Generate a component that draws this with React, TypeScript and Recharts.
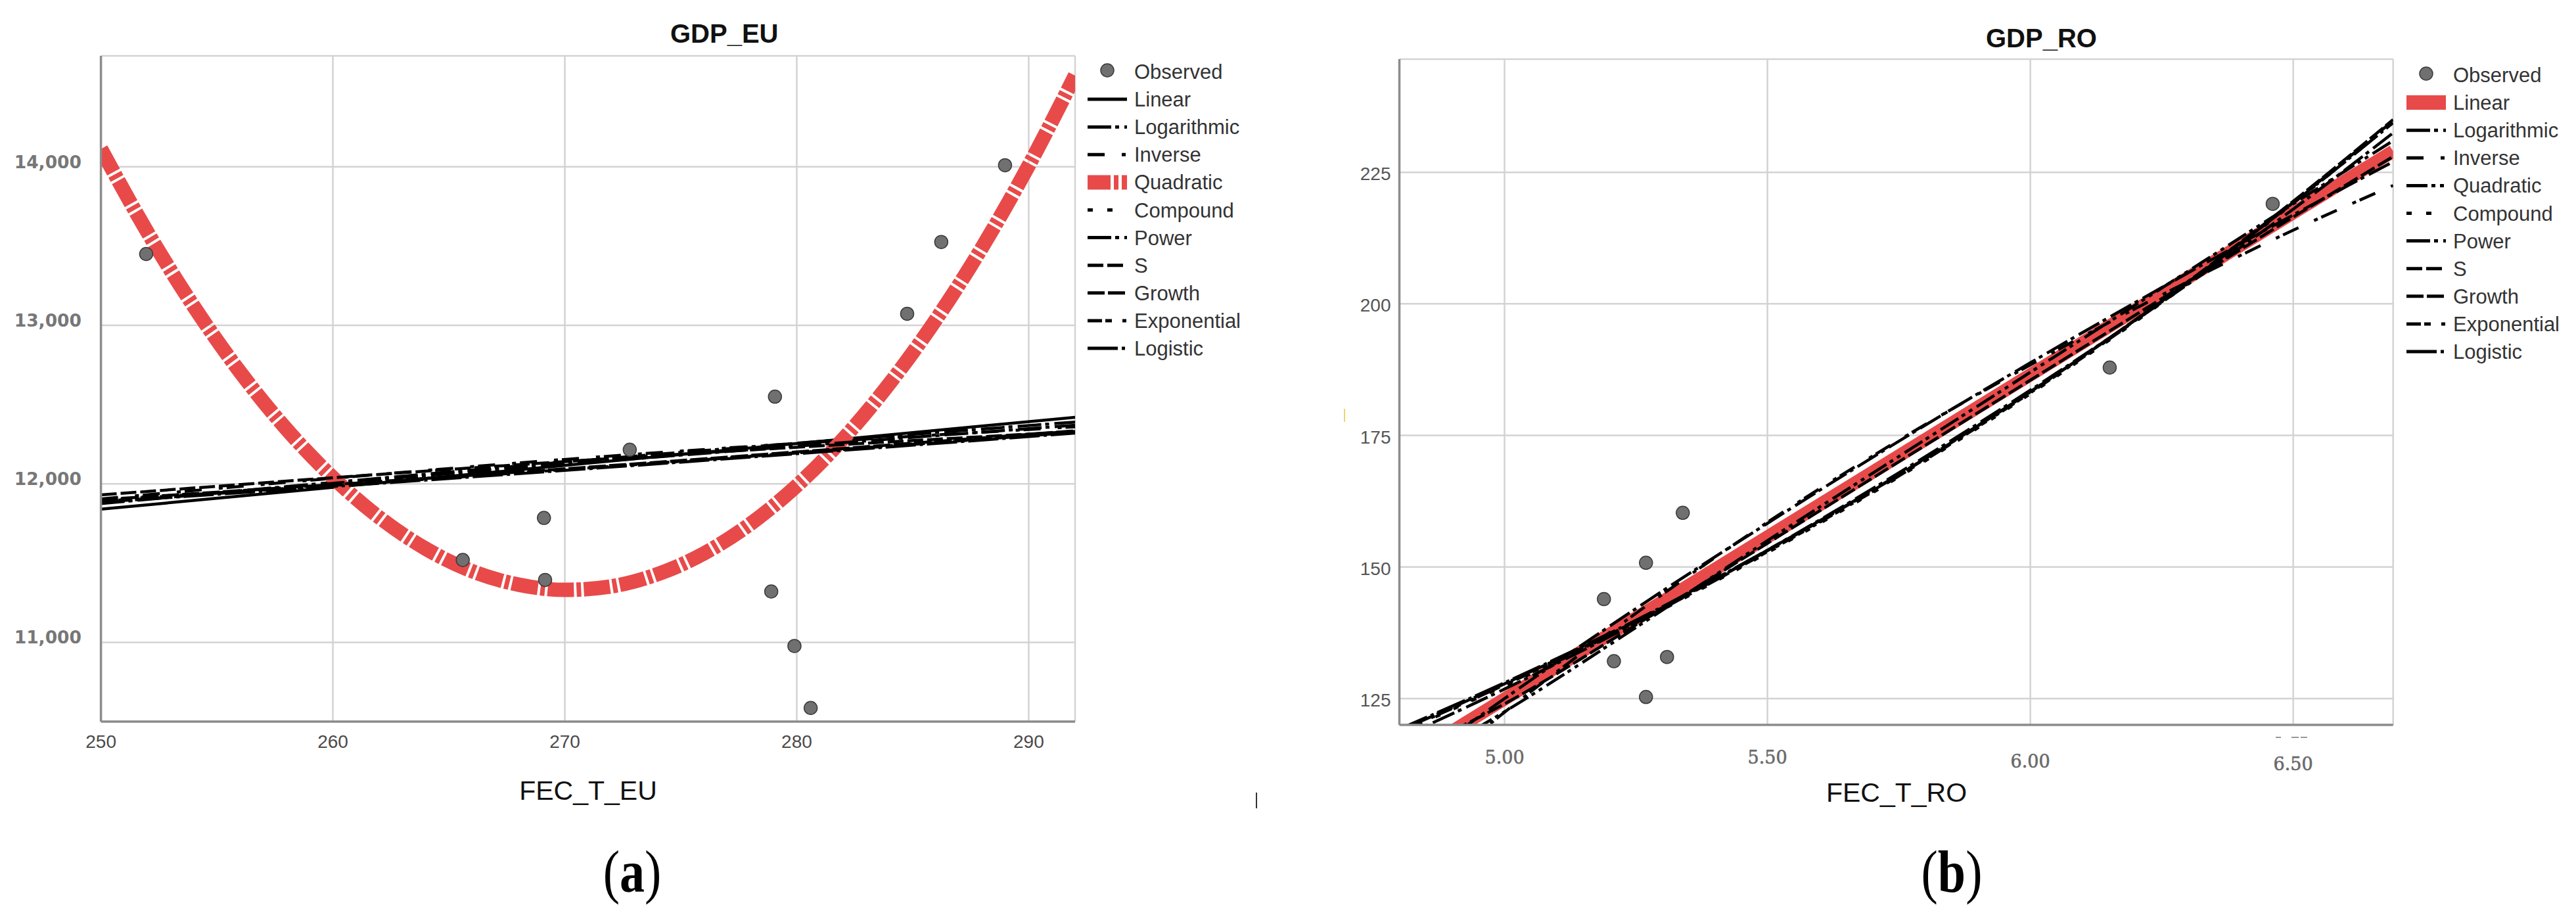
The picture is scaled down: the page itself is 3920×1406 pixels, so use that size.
import { ComposedChart, Scatter, Line, XAxis, YAxis, CartesianGrid, Legend } from "recharts";

// ---- (a) GDP_EU vs FEC_T_EU ----
const EU_OBS_X = [251.95, 265.6, 269.1, 269.15, 272.8, 278.9, 279.06, 279.9, 280.6, 284.76, 286.23, 288.98];
const EU_OBS_Y = [13450, 11520, 11785, 11394, 12215, 11321, 12550, 10977, 10586, 13073, 13526, 14010];

const EU_FIT_X = [250, 271, 292];
const EU_LINEAR = [11840, 12130, 12420];
const EU_LOG = [11875, 12150, 12390];
const EU_INVERSE = [11905, 12165, 12360];
const EU_COMPOUND = [11895, 12100, 12330];
const EU_POWER = [11880, 12135, 12370];
const EU_S = [11930, 12150, 12330];
const EU_GROWTH = [11900, 12105, 12335];
const EU_EXPONENTIAL = [11890, 12100, 12325];
const EU_LOGISTIC = [11885, 12095, 12320];

const EU_QUAD_X = [250, 252, 254, 256, 258, 260, 262, 264, 266, 268, 270, 272, 274, 276, 278, 280, 282, 284, 286, 288, 290, 292];
const EU_QUAD_Y = [14113, 13589, 13120, 12705, 12345, 12040, 11788, 11591, 11449, 11364, 11331, 11353, 11430, 11561, 11747, 11988, 12283, 12633, 13036, 13494, 14008, 14576];

const EU_X_TICKS = [250, 260, 270, 280, 290];
const EU_Y_TICKS = [11000, 12000, 13000, 14000];

// ---- (b) GDP_RO vs FEC_T_RO ----
const RO_OBS_X = [5.339, 5.269, 5.189, 5.208, 5.309, 5.269, 6.151, 6.461];
const RO_OBS_Y = [160.3, 150.8, 143.9, 132.1, 132.9, 125.3, 187.9, 219.0];

const RO_LINEAR_X = [4.8, 6.69];
const RO_LINEAR = [112.6, 229.0];
const RO_FIT_X = [4.8, 5.0, 5.25, 5.5, 5.75, 6.0, 6.25, 6.5, 6.69];
const RO_LOG = [110.6, 125.0, 142.1, 158.3, 173.9, 188.8, 203.1, 216.9, 227.0];
const RO_INVERSE = [105.9, 122.4, 141.2, 158.5, 174.1, 188.4, 201.7, 214.0, 222.5];
const RO_QUAD = [111.0, 122.5, 138.5, 155.0, 171.0, 187.0, 203.0, 219.0, 231.0];
const RO_COMPOUND = [118.5, 127.4, 139.3, 152.7, 167.1, 182.9, 200.2, 219.1, 234.5];
const RO_POWER = [117.5, 126.8, 139.4, 153.2, 167.9, 183.6, 200.3, 218.0, 232.5];
const RO_S = [114.0, 124.0, 139.0, 154.5, 170.0, 185.5, 201.0, 216.5, 228.0];
const RO_GROWTH = [118.9, 127.8, 139.7, 153.1, 167.5, 183.3, 200.6, 219.5, 235.0];
const RO_EXPONENTIAL = [118.7, 127.6, 139.5, 152.9, 167.3, 183.1, 200.4, 219.3, 234.8];
const RO_LOGISTIC = [119.2, 128.0, 139.9, 153.2, 167.6, 183.3, 200.5, 219.2, 234.4];

const RO_X_TICKS = [5.0, 5.5, 6.0, 6.5];
const RO_Y_TICKS = [125, 150, 175, 200, 225];

const RED = "#e84a4a";
const BLACK = "#000000";
const SANS = "'Liberation Sans', Arial, sans-serif";

type Fit = {
  name: string;
  xs: number[];
  ys: number[];
  color: string;
  width: number;
  dash?: string;
  legendDash?: string;
  curve?: boolean;
};

const DASH = {
  log: "36 6 6 8",
  inverse: "26 26 6 6",
  quad: "32 6 6 7 6 8",
  compound: "8 22",
  power: "36 6 6 8",
  s: "24 6",
  growth: "26 5",
  exponential: "22 5 10 16 6 6",
  logistic: "46 6 5 6",
};

const EU_FITS: Fit[] = [
  { name: "Linear", xs: EU_FIT_X, ys: EU_LINEAR, color: BLACK, width: 4.5 },
  { name: "Logarithmic", xs: EU_FIT_X, ys: EU_LOG, color: BLACK, width: 4.5, dash: DASH.log, curve: true },
  { name: "Inverse", xs: EU_FIT_X, ys: EU_INVERSE, color: BLACK, width: 4.5, dash: DASH.inverse, curve: true },
  { name: "Quadratic", xs: EU_QUAD_X, ys: EU_QUAD_Y, color: RED, width: 22, dash: "40 4 7 4", legendDash: "35 5 7 5 8 5", curve: true },
  { name: "Compound", xs: EU_FIT_X, ys: EU_COMPOUND, color: BLACK, width: 4.5, dash: DASH.compound, curve: true },
  { name: "Power", xs: EU_FIT_X, ys: EU_POWER, color: BLACK, width: 4.5, dash: DASH.power, curve: true },
  { name: "S", xs: EU_FIT_X, ys: EU_S, color: BLACK, width: 4.5, dash: DASH.s, curve: true },
  { name: "Growth", xs: EU_FIT_X, ys: EU_GROWTH, color: BLACK, width: 4.5, dash: DASH.growth, curve: true },
  { name: "Exponential", xs: EU_FIT_X, ys: EU_EXPONENTIAL, color: BLACK, width: 4.5, dash: DASH.exponential, curve: true },
  { name: "Logistic", xs: EU_FIT_X, ys: EU_LOGISTIC, color: BLACK, width: 4.5, dash: DASH.logistic, curve: true },
];

const RO_FITS: Fit[] = [
  { name: "Linear", xs: RO_LINEAR_X, ys: RO_LINEAR, color: RED, width: 20 },
  { name: "Logarithmic", xs: RO_FIT_X, ys: RO_LOG, color: BLACK, width: 4.5, dash: DASH.log, curve: true },
  { name: "Inverse", xs: RO_FIT_X, ys: RO_INVERSE, color: BLACK, width: 4.5, dash: DASH.inverse, curve: true },
  { name: "Quadratic", xs: RO_FIT_X, ys: RO_QUAD, color: BLACK, width: 4.5, dash: DASH.quad, curve: true },
  { name: "Compound", xs: RO_FIT_X, ys: RO_COMPOUND, color: BLACK, width: 4.5, dash: DASH.compound, curve: true },
  { name: "Power", xs: RO_FIT_X, ys: RO_POWER, color: BLACK, width: 4.5, dash: DASH.power, curve: true },
  { name: "S", xs: RO_FIT_X, ys: RO_S, color: BLACK, width: 4.5, dash: DASH.s, curve: true },
  { name: "Growth", xs: RO_FIT_X, ys: RO_GROWTH, color: BLACK, width: 4.5, dash: DASH.growth, curve: true },
  { name: "Exponential", xs: RO_FIT_X, ys: RO_EXPONENTIAL, color: BLACK, width: 4.5, dash: DASH.exponential, curve: true },
  { name: "Logistic", xs: RO_FIT_X, ys: RO_LOGISTIC, color: BLACK, width: 4.5, dash: DASH.logistic, curve: true },
];

function ObsDot(props: any) {
  return <circle cx={props.cx} cy={props.cy} r={10} fill="#707070" stroke="#3a3a3a" strokeWidth={1.5} />;
}

function LegendBox({ fits }: { fits: Fit[] }) {
  return (
    <svg width={340} height={480}>
      <circle cx={40} cy={28} r={10} fill="#707070" stroke="#3a3a3a" strokeWidth={1.5} />
      <text x={81} y={41} fontFamily={SANS} fontSize={31} fill="#333">Observed</text>
      {fits.map((f, i) => {
        const cy = 30 + (i + 1) * 42.1;
        const thick = f.width > 10;
        return (
          <g key={f.name}>
            <line x1={10} x2={70} y1={cy} y2={cy} stroke={f.color} strokeWidth={thick ? 22 : 5}
              strokeDasharray={f.legendDash ?? f.dash} />
            <text x={81} y={cy + 11} fontFamily={SANS} fontSize={31} fill="#333">{f.name}</text>
          </g>
        );
      })}
    </svg>
  );
}

function EuXTick(props: any) {
  return (
    <text x={props.x} y={props.y + 40} textAnchor="middle" fontFamily={SANS} fontSize={28} fill="#4a4a4a">
      {props.payload.value}
    </text>
  );
}

function EuYTick(props: any) {
  return (
    <text x={props.x - 29.6} y={props.y + 2} textAnchor="end" fontFamily="'DejaVu Sans', Verdana, sans-serif"
      fontWeight="bold" fontSize={26.5} fill="#777">
      {Number(props.payload.value).toLocaleString("en-US")}
    </text>
  );
}

const RO_X_LABEL_DY = [59, 59, 65, 69];

function RoXTick(props: any) {
  return (
    <text x={props.x} y={props.y + (RO_X_LABEL_DY[props.index] ?? 60)} textAnchor="middle"
      fontFamily="'DejaVu Serif', serif" fontSize={27} fill="#6a6a6a" stroke="#6a6a6a" strokeWidth={0.6}>
      {Number(props.payload.value).toFixed(2)}
    </text>
  );
}

function RoYTick(props: any) {
  return (
    <text x={props.x - 13} y={props.y + 12} textAnchor="end" fontFamily={SANS} fontSize={28} fill="#555">
      {props.payload.value}
    </text>
  );
}

type PanelProps = {
  left: number;
  width: number;
  margin: { top: number; right: number; bottom: number; left: number };
  yWidth: number;
  xDomain: [number, number];
  yDomain: [number, number];
  xTicks: number[];
  yTicks: number[];
  obsX: number[];
  obsY: number[];
  fits: Fit[];
  xTick: any;
  yTick: any;
  legendLeft: number;
  legendTop: number;
};

function Panel(p: PanelProps) {
  const obs = p.obsX.map((x, i) => ({ x, y: p.obsY[i] }));
  const axisLine = { stroke: "#8c8c8c", strokeWidth: 3.5 };
  return (
    <div style={{ position: "absolute", left: p.left, top: 0 }}>
      <ComposedChart width={p.width} height={1406} margin={p.margin}>
        <CartesianGrid stroke="#d3d3d3" strokeWidth={2.5} />
        <XAxis type="number" dataKey="x" domain={p.xDomain} ticks={p.xTicks} allowDataOverflow interval={0}
          height={130} tickSize={0} tickMargin={0} tickLine={false} axisLine={axisLine} tick={p.xTick} />
        <YAxis type="number" dataKey="y" domain={p.yDomain} ticks={p.yTicks} allowDataOverflow interval={0}
          width={p.yWidth} tickSize={0} tickMargin={0} tickLine={false} axisLine={axisLine} tick={p.yTick} />
        <Scatter data={obs} dataKey="y" shape={ObsDot} isAnimationActive={false} />
        {p.fits.map((f) => (
          <Line key={f.name} data={f.xs.map((x, i) => ({ x, y: f.ys[i] }))} dataKey="y" name={f.name}
            type={f.curve ? "monotone" : "linear"} stroke={f.color} strokeWidth={f.width}
            strokeDasharray={f.dash} dot={false} activeDot={false} isAnimationActive={false} />
        ))}
        <Legend layout="vertical" align="center" verticalAlign="middle"
          wrapperStyle={{ left: p.legendLeft, top: p.legendTop, width: 340, height: 480 }}
          content={() => <LegendBox fits={p.fits} />} />
      </ComposedChart>
    </div>
  );
}

export default function App() {
  return (
    <div style={{ position: "absolute", left: 0, top: 0, width: 3920, height: 1406, background: "#fff", overflow: "hidden" }}>
      <Panel left={0} width={2000} margin={{ top: 85, right: 364, bottom: 178, left: 0 }} yWidth={153.6}
        xDomain={[250, 292]} yDomain={[10500, 14700]} xTicks={EU_X_TICKS} yTicks={EU_Y_TICKS}
        obsX={EU_OBS_X} obsY={EU_OBS_Y} fits={EU_FITS} xTick={EuXTick} yTick={EuYTick}
        legendLeft={1645} legendTop={78.6} />
      <Panel left={2000} width={1920} margin={{ top: 90, right: 278.3, bottom: 173, left: 0 }} yWidth={129.5}
        xDomain={[4.8, 6.69]} yDomain={[120, 246.5]} xTicks={RO_X_TICKS} yTicks={RO_Y_TICKS}
        obsX={RO_OBS_X} obsY={RO_OBS_Y} fits={RO_FITS} xTick={RoXTick} yTick={RoYTick}
        legendLeft={1651.7} legendTop={84.3} />
      <svg width={3920} height={1406} style={{ position: "absolute", left: 0, top: 0, pointerEvents: "none" }}>
        <text x={1020} y={65} fontFamily={SANS} fontWeight="bold" fontSize={40} fill="#111">GDP_EU</text>
        <text x={3022} y={72} fontFamily={SANS} fontWeight="bold" fontSize={40} fill="#111">GDP_RO</text>
        <text x={895} y={1216.7} textAnchor="middle" fontFamily={SANS} fontSize={41} fill="#111">FEC_T_EU</text>
        <text x={2886} y={1219.5} textAnchor="middle" fontFamily={SANS} fontSize={41} fill="#111">FEC_T_RO</text>
        <g transform="translate(962,1357) scale(1,1.2)">
          <text x={0} y={0} textAnchor="middle" fontFamily="'Liberation Serif', 'Times New Roman', serif" fontSize={76} fill="#000">
            (<tspan fontWeight="bold">a</tspan>)
          </text>
        </g>
        <g transform="translate(2970,1357) scale(1,1.2)">
          <text x={0} y={0} textAnchor="middle" fontFamily="'Liberation Serif', 'Times New Roman', serif" fontSize={76} fill="#000">
            (<tspan fontWeight="bold">b</tspan>)
          </text>
        </g>
        <rect x={1911} y={1206} width={2} height={24} fill="#333" />
        <rect x={2045} y={622} width={2} height={20} fill="#f3d36b" />
        <rect x={3463} y={1121} width={8} height={2} fill="#999" />
        <rect x={3487} y={1121} width={11} height={2} fill="#999" />
        <rect x={3501} y={1121} width={10} height={2} fill="#999" />
      </svg>
    </div>
  );
}
